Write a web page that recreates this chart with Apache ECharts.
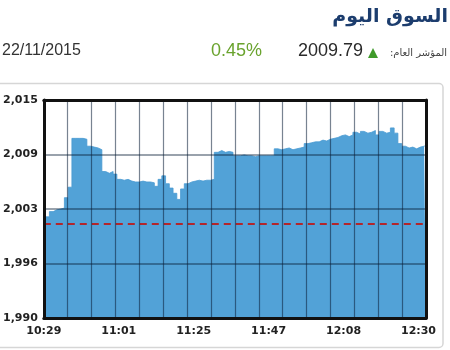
<!DOCTYPE html>
<html>
<head>
<meta charset="utf-8">
<script src="https://cdn.jsdelivr.net/npm/echarts@6/dist/echarts.min.js"></script>
<style>
html,body{margin:0;padding:0;background:#fff;}
#c{width:450px;height:350px;}
</style>
</head>
<body>
<div id="c"></div>
<script>
// ---- data ----
var tickLabels = ['10:29', '11:01', '11:25', '11:47', '12:08', '12:30'];
var tickIndex = [0, 20, 40, 60, 80, 100];
var indexValues = [
  2001.2, 2001.6, 2002.2, 2002.4, 2002.5, 2002.6, 2003.8, 2005.0, 2010.6, 2010.6,
  2010.6, 2010.5, 2009.7, 2009.6, 2009.5, 2009.3, 2006.8, 2006.6, 2006.8, 2006.5,
  2005.9, 2005.8, 2005.9, 2005.7, 2005.6, 2005.6, 2005.7, 2005.6, 2005.6, 2005.5,
  2005.1, 2005.9, 2006.3, 2005.4, 2004.9, 2004.3, 2003.6, 2004.8, 2005.4, 2005.6,
  2005.7, 2005.8, 2005.7, 2005.8, 2005.8, 2005.9, 2009.0, 2009.2, 2009.0, 2009.1,
  2009.0, 2008.6, 2008.6, 2008.7, 2008.6, 2008.6, 2008.5, 2008.6, 2008.6, 2008.6,
  2008.6, 2008.6, 2009.4, 2009.3, 2009.4, 2009.5, 2009.3, 2009.4, 2009.5, 2009.6,
  2010.0, 2010.1, 2010.2, 2010.2, 2010.4, 2010.3, 2010.5, 2010.6, 2010.7, 2010.9,
  2011.0, 2010.8, 2011.0, 2011.3, 2011.1, 2011.4, 2011.2, 2011.3, 2011.5, 2011.0,
  2011.4, 2011.2, 2011.3, 2011.8, 2011.2, 2010.0, 2009.7, 2009.5, 2009.6, 2009.4,
  2009.6, 2009.7, 2009.79
];
var prevClose = 2000.79;
var headerTitle = 'السوق اليوم';
var headerDate = '22/11/2015';
var headerChange = '0.45%';
var headerValue = '2009.79';
var headerLabel = 'المؤشر العام:';

// categories built from tick labels
var categories = indexValues.map(function (v, i) {
  var k = tickIndex.indexOf(i);
  return k >= 0 ? tickLabels[k] : '';
});

var chart = echarts.init(document.getElementById('c'), null, {renderer: 'canvas'});
var gridCol = 'rgba(10,30,55,0.55)';
var axisFont = {fontFamily: 'DejaVu Sans', fontWeight: 'bold', fontSize: 11, color: '#222'};

chart.setOption({
  animation: false,
  backgroundColor: '#fff',
  grid: {left: 42, right: 24, top: 100, bottom: 32, containLabel: false},
  graphic: [
    {type: 'rect', z: -10, silent: true,
     shape: {x: -4, y: 83.5, width: 447, height: 264, r: 4},
     style: {fill: 'none', stroke: '#d6d6d6', lineWidth: 1.5}},
    {type: 'text', right: 2, top: 8,
     style: {text: headerTitle, font: 'bold 19px "DejaVu Sans"', fill: '#1c3d6e'}},
    {type: 'text', left: 2, top: 43,
     style: {text: headerDate, font: '16px "Liberation Sans"', fill: '#333'}},
    {type: 'text', left: 211, top: 42,
     style: {text: headerChange, font: '18px "Liberation Sans"', fill: '#6aa32e'}},
    {type: 'text', left: 298, top: 42,
     style: {text: headerValue, font: '18px "Liberation Sans"', fill: '#2a2a2a'}},
    {type: 'polygon', shape: {points: [[373, 48], [368, 58], [378, 58]]},
     style: {fill: '#3f9a2a'}},
    {type: 'text', right: 3, top: 48,
     style: {text: headerLabel + '\u200F', font: '10px "DejaVu Sans"', fill: '#444'}}
  ],
  xAxis: [
    {type: 'category', data: categories, boundaryGap: false, position: 'bottom', z: 10,
     axisLine: {show: true, onZero: false, lineStyle: {color: '#111', width: 3}},
     axisTick: {show: false},
     axisLabel: Object.assign({
       margin: 8,
       interval: function (i) { return tickIndex.indexOf(i) >= 0; }
     }, axisFont),
     splitLine: {show: false}},
    {type: 'value', min: 0, max: 16, interval: 1, position: 'top', z: 10,
     axisLine: {show: true, onZero: false, lineStyle: {color: '#111', width: 3}},
     axisTick: {show: false}, axisLabel: {show: false},
     splitLine: {show: true, lineStyle: {color: gridCol, width: 1.2}}}
  ],
  yAxis: [
    {type: 'value', min: 1990, max: 2015, interval: 6.25, position: 'left', z: 10,
     axisLine: {show: true, onZero: false, lineStyle: {color: '#111', width: 3}},
     axisTick: {show: false},
     axisLabel: Object.assign({
       margin: 6,
       formatter: function (v) {
         var s = String(Math.round(v));
         return s.slice(0, 1) + ',' + s.slice(1);
       }
     }, axisFont),
     splitLine: {show: true, lineStyle: {color: gridCol, width: 1.5}}},
    {type: 'value', min: 1990, max: 2015, interval: 6.25, position: 'right', z: 10,
     axisLine: {show: true, onZero: false, lineStyle: {color: '#111', width: 3}},
     axisTick: {show: false}, axisLabel: {show: false}, splitLine: {show: false}}
  ],
  series: [
    {type: 'line', xAxisIndex: 0, yAxisIndex: 0, data: indexValues,
     symbol: 'none', step: 'middle',
     lineStyle: {width: 0.8, color: '#4a9bd2'},
     areaStyle: {color: '#52a2d7', opacity: 1, origin: 'start'},
     markLine: {
       silent: true, symbol: ['none', 'none'], label: {show: false},
       lineStyle: {color: '#b3262b', type: [7, 5], width: 2},
       data: [{yAxis: prevClose}]
     }}
  ]
});
</script>
</body>
</html>
